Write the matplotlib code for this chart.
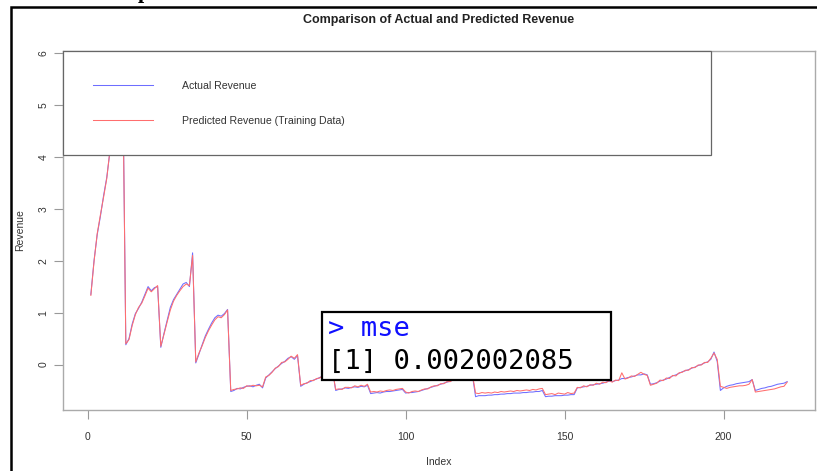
import numpy as np
import matplotlib
matplotlib.use('Agg')
from matplotlib import pyplot as plt
from matplotlib.patches import Rectangle

plt.rcParams['font.family'] = ['Liberation Sans', 'DejaVu Sans']

# revenue per index (1..220)
actual = [
    1.35, 2.00, 2.50, 2.85, 3.25, 3.60, 4.10, 4.60, 5.00, 5.40, 5.78,
    0.38, 0.50, 0.78, 0.98, 1.08, 1.20, 1.35, 1.50, 1.42, 1.48, 1.50,
    0.33, 0.60, 0.85, 1.10, 1.25, 1.35, 1.45, 1.55, 1.58, 1.50, 2.15,
    0.03, 0.20, 0.38, 0.55, 0.68, 0.80, 0.90, 0.95, 0.93, 0.98, 1.06,
    -0.52, -0.50, -0.46, -0.47, -0.44, -0.42, -0.41, -0.43, -0.40, -0.38, -0.45,
    -0.26, -0.20, -0.14, -0.08, -0.03, 0.02, 0.06, 0.12, 0.15, 0.10, 0.17,
    -0.42, -0.38, -0.35, -0.33, -0.30, -0.28, -0.25, -0.22, -0.20, -0.15, -0.10,
    -0.50, -0.48, -0.47, -0.45, -0.46, -0.44, -0.43, -0.44, -0.42, -0.43, -0.40,
    -0.56, -0.55, -0.54, -0.55, -0.53, -0.52, -0.52, -0.51, -0.50, -0.49, -0.48,
    -0.55, -0.54, -0.54, -0.53, -0.52, -0.50, -0.48, -0.46, -0.44, -0.42, -0.40,
    -0.38, -0.36, -0.34, -0.32, -0.30, -0.28, -0.26, -0.24, -0.22, -0.20, -0.20,
    -0.62, -0.60, -0.60, -0.60, -0.59, -0.59, -0.58, -0.58, -0.57, -0.57, -0.56,
    -0.56, -0.55, -0.55, -0.55, -0.54, -0.54, -0.53, -0.53, -0.52, -0.52, -0.50,
    -0.62, -0.61, -0.61, -0.60, -0.60, -0.60, -0.59, -0.59, -0.58, -0.58, -0.45,
    -0.44, -0.43, -0.42, -0.40, -0.39, -0.38, -0.37, -0.36, -0.34, -0.32, -0.33,
    -0.31, -0.30, -0.27, -0.27, -0.25, -0.24, -0.22, -0.20, -0.20, -0.18, -0.20,
    -0.38, -0.37, -0.35, -0.32, -0.30, -0.28, -0.25, -0.22, -0.20, -0.17, -0.14,
    -0.12, -0.10, -0.07, -0.05, -0.02, 0.00, 0.03, 0.05, 0.10, 0.24, 0.06,
    -0.50, -0.45, -0.42, -0.40, -0.39, -0.37, -0.36, -0.35, -0.34, -0.33, -0.29,
    -0.50, -0.48, -0.46, -0.45, -0.43, -0.42, -0.40, -0.38, -0.37, -0.36, -0.33,
]

predicted = [
    1.33, 1.98, 2.52, 2.88, 3.22, 3.58, 4.12, 4.55, 4.95, 5.35, 5.70,
    0.40, 0.48, 0.75, 0.96, 1.10, 1.18, 1.32, 1.47, 1.40, 1.46, 1.52,
    0.35, 0.58, 0.82, 1.05, 1.22, 1.33, 1.42, 1.50, 1.55, 1.52, 2.10,
    0.05, 0.22, 0.36, 0.52, 0.65, 0.76, 0.86, 0.92, 0.90, 0.96, 1.05,
    -0.50, -0.48, -0.47, -0.45, -0.46, -0.41, -0.42, -0.40, -0.41, -0.40, -0.43,
    -0.24, -0.21, -0.15, -0.07, -0.04, 0.04, 0.05, 0.10, 0.16, 0.12, 0.19,
    -0.40, -0.37, -0.36, -0.31, -0.31, -0.27, -0.26, -0.21, -0.19, -0.16, -0.12,
    -0.48, -0.47, -0.48, -0.44, -0.44, -0.45, -0.41, -0.43, -0.40, -0.42, -0.38,
    -0.53, -0.52, -0.53, -0.51, -0.52, -0.50, -0.49, -0.50, -0.48, -0.47, -0.46,
    -0.53, -0.55, -0.52, -0.51, -0.52, -0.49, -0.47, -0.47, -0.43, -0.41, -0.41,
    -0.37, -0.37, -0.33, -0.33, -0.29, -0.29, -0.25, -0.25, -0.21, -0.21, -0.19,
    -0.55, -0.56, -0.54, -0.55, -0.54, -0.55, -0.53, -0.54, -0.52, -0.53, -0.52,
    -0.51, -0.52, -0.50, -0.51, -0.50, -0.49, -0.50, -0.48, -0.49, -0.47, -0.46,
    -0.58, -0.57, -0.56, -0.58, -0.55, -0.56, -0.57, -0.54, -0.56, -0.55, -0.44,
    -0.45, -0.41, -0.43, -0.39, -0.40, -0.36, -0.38, -0.34, -0.35, -0.31, -0.34,
    -0.30, -0.31, -0.16, -0.28, -0.26, -0.22, -0.23, -0.19, -0.15, -0.19, -0.21,
    -0.40, -0.38, -0.36, -0.30, -0.31, -0.26, -0.27, -0.21, -0.22, -0.16, -0.15,
    -0.11, -0.11, -0.06, -0.06, -0.01, -0.01, 0.04, 0.04, 0.12, 0.22, 0.10,
    -0.42, -0.44, -0.46, -0.44, -0.43, -0.42, -0.41, -0.41, -0.40, -0.38, -0.29,
    -0.53, -0.52, -0.51, -0.50, -0.49, -0.48, -0.47, -0.45, -0.43, -0.42, -0.34,
]
index = np.arange(1, len(actual) + 1)

xticks = [0, 50, 100, 150, 200]
yticks = [0, 1, 2, 3, 4, 5, 6]
mse_cmd = '> mse'
mse_out = '[1] 0.002002085'

W, H = 817, 471
fig = plt.figure(figsize=(W / 100, H / 100), dpi=100)
ax = fig.add_axes([63 / W, 1 - 410 / H, 752 / W, 359 / H])

ax.plot(index, actual, color='#6e6eff', lw=0.75, label='Actual Revenue')
ax.plot(index, predicted, color='#ff6e6e', lw=0.75, label='Predicted Revenue (Training Data)')
ax.margins(x=0.04, y=0.04)

ax.set_xticks(xticks)
ax.set_yticks(yticks)
for s in ax.spines.values():
    s.set_color('#aaaaaa')
    s.set_linewidth(1.0)
ax.tick_params(direction='out', length=6.5, width=0.8, color='#999999',
               labelsize=7.5, labelcolor='#333333')
ax.tick_params(axis='x', pad=9)
ax.tick_params(axis='y', pad=4)
for lab in ax.get_yticklabels():
    lab.set_rotation(90)
    lab.set_va('center')

ax.set_title('Comparison of Actual and Predicted Revenue', fontsize=9,
             fontweight='bold', color='#222222', pad=20)
ax.set_xlabel('Index', fontsize=7.5, color='#333333')
ax.set_ylabel('Revenue', fontsize=7.5, color='#333333')
ax.xaxis.set_label_coords(0.5, -0.13)
ax.yaxis.set_label_coords(-0.05, 0.5)

leg = ax.legend(loc='upper left', bbox_to_anchor=(0, 1, 648 / 752, 0), mode='expand',
                borderaxespad=0, fontsize=7.6, frameon=True, fancybox=False,
                borderpad=2.8, labelspacing=2.4, handlelength=5.7, handletextpad=2.8)
leg.get_frame().set_edgecolor('#666666')
leg.get_frame().set_linewidth(0.9)
leg.get_frame().set_alpha(1)
for t in leg.get_texts():
    t.set_color('#333333')

# outer screenshot frame and clipped heading above
fig.add_artist(Rectangle((10.5 / W, -0.1), 1.2, 1 - 7 / H + 0.1, transform=fig.transFigure,
                         fill=False, edgecolor='black', lw=1.8, clip_on=False))
fig.text(144 / W, 1 + 1.5 / H, 'p', fontsize=16, fontweight='bold', family='Liberation Serif',
         ha='center', va='baseline')

# console inset
fig.add_artist(Rectangle((322 / W, 1 - 380 / H), 289 / W, 68 / H, transform=fig.transFigure,
                         facecolor='white', edgecolor='black', lw=1.6, zorder=10))
fig.text(328 / W, 1 - 336 / H, mse_cmd, fontsize=19.5, family='DejaVu Sans Mono',
         color='#1010ff', va='baseline', zorder=11)
fig.text(328 / W, 1 - 369 / H, mse_out, fontsize=19.5, family='DejaVu Sans Mono',
         color='black', va='baseline', zorder=11)

fig.savefig('out.png', dpi=100)
